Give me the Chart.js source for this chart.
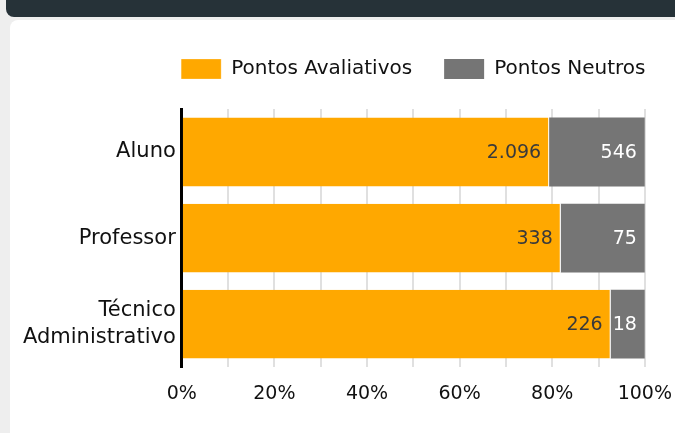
<!DOCTYPE html>
<html lang="pt-BR">
<head>
<meta charset="utf-8">
<title>Pontos por segmento</title>
<script src="https://cdn.jsdelivr.net/npm/chart.js@4.4.0/dist/chart.umd.min.js"></script>
<style>
  html, body { margin: 0; padding: 0; }
  body { width: 675px; height: 433px; background: #eeeeee; position: relative; overflow: hidden; }
  .topbar { position: absolute; left: 6px; top: 0; right: 0; height: 17px; background: #263238; border-bottom-left-radius: 8px; }
  .card { position: absolute; left: 10px; top: 20px; right: 0; bottom: 0; background: #fff; border-top-left-radius: 8px; }
  .card canvas { position: absolute; left: 0; top: 0; }
</style>
</head>
<body>
<div class="topbar"></div>
<div class="card">
  <canvas id="pontosChart" width="677" height="413"></canvas>
</div>
<script>
// segmentos e contagens de pontos
const categories = ['Aluno', 'Professor', ['Técnico', 'Administrativo']];
const avaliativos = [2096, 338, 226];
const neutros = [546, 75, 18];
const xTickLabels = [0, 20, 40, 60, 80, 100];

const totals = avaliativos.map((v, i) => v + neutros[i]);
const pct = arr => arr.map((v, i) => v / totals[i] * 100);

const fmt = n => n.toLocaleString('pt-BR');

// escreve o valor absoluto no fim de cada segmento
const valueLabels = {
  id: 'valueLabels',
  afterDatasetsDraw(chart) {
    const ctx = chart.ctx;
    ctx.save();
    ctx.font = '19px "DejaVu Sans"';
    ctx.textAlign = 'right';
    ctx.textBaseline = 'middle';
    chart.data.datasets.forEach((ds, di) => {
      const meta = chart.getDatasetMeta(di);
      meta.data.forEach((bar, i) => {
        ctx.fillStyle = ds.labelColor;
        ctx.fillText(fmt(ds.raw[i]), bar.x - 8, bar.y + 1);
      });
    });
    ctx.restore();
  }
};

// legenda numa linha so, centrada sobre a area do grafico, com folga embaixo
const legendFit = {
  id: 'legendFit',
  beforeInit(chart) {
    const fit = chart.legend.fit;
    chart.legend.fit = function () {
      this.maxWidth = 2000;
      fit.call(this);
      this.height += 20;
    };
  },
  afterLayout(chart) {
    // alarga a caixa da legenda por igual dos dois lados (o centro nao muda)
    chart.legend.left -= 60;
    chart.legend.right += 60;
  }
};

Chart.defaults.font.family = '"DejaVu Sans", sans-serif';
Chart.defaults.color = '#111';

new Chart(document.getElementById('pontosChart'), {
  type: 'bar',
  data: {
    labels: categories,
    datasets: [
      {
        label: 'Pontos Avaliativos',
        data: pct(avaliativos),
        raw: avaliativos,
        backgroundColor: '#FFA800',
        borderColor: '#fff',
        borderWidth: { right: 1 },
        labelColor: '#3a3a3a'
      },
      {
        label: 'Pontos Neutros',
        data: pct(neutros),
        raw: neutros,
        backgroundColor: '#757575',
        borderColor: '#fff',
        borderWidth: 0,
        labelColor: '#ffffff'
      }
    ]
  },
  options: {
    indexAxis: 'y',
    responsive: false,
    animation: false,
    devicePixelRatio: 1,
    barPercentage: 0.8,
    categoryPercentage: 1,
    layout: { padding: { left: 7, right: 0, top: 7, bottom: 13 } },
    plugins: {
      legend: {
        position: 'top',
        align: 'center',
        fullSize: false,
        labels: {
          boxWidth: 40,
          boxHeight: 20,
          padding: 32,
          color: '#111',
          font: { size: 20 }
        }
      },
      tooltip: { enabled: false }
    },
    scales: {
      x: {
        stacked: true,
        min: 0,
        max: 100,
        grid: { color: '#e0e0e0', lineWidth: 2, drawTicks: false },
        border: { display: false },
        ticks: {
          stepSize: 10,
          autoSkip: false,
          maxRotation: 0,
          padding: 15,
          color: '#111',
          font: { size: 19 },
          callback: v => xTickLabels.includes(v) ? v + '%' : ''
        }
      },
      y: {
        stacked: true,
        grid: { display: false, drawTicks: false },
        border: { display: true, color: '#000', width: 3 },
        ticks: {
          padding: 6,
          color: '#111',
          font: { size: 21, lineHeight: 1.3 }
        }
      }
    }
  },
  plugins: [valueLabels, legendFit]
});
</script>
</body>
</html>
